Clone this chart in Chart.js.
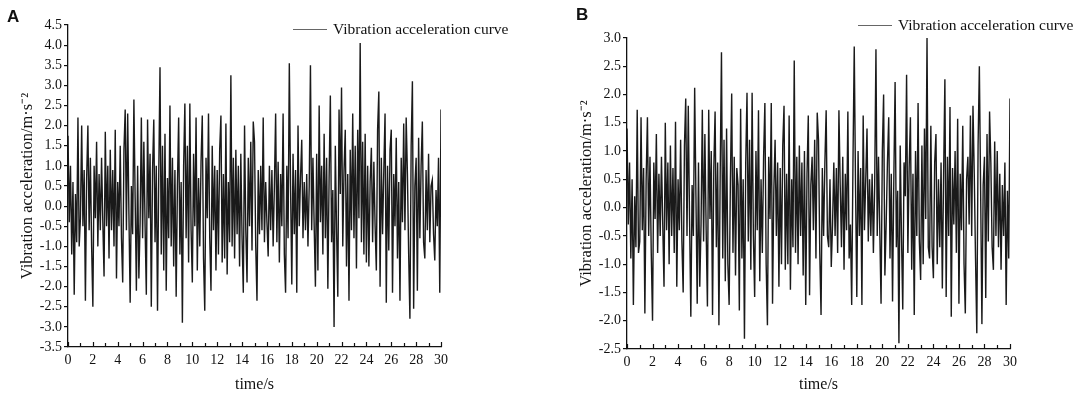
<!DOCTYPE html>
<html>
<head>
    <title>Vibration acceleration curves</title>
    <script src="https://cdn.jsdelivr.net/npm/chart.js"></script>
    <style>
        body { margin: 0; background: #fff; }
        #wrap { position: relative; width: 1084px; height: 394px; }
        canvas { position: absolute; top: 0; }
        .tag { position: absolute; font: bold 17px "Liberation Sans", Arial, sans-serif; color: #111; }
    </style>
</head>
<body>
<div id="wrap">
    <canvas id="chartA" width="542" height="394" style="left:0"></canvas>
    <canvas id="chartB" width="542" height="394" style="left:542px"></canvas>
    <div class="tag" style="left:7px;top:7px">A</div>
    <div class="tag" style="left:576px;top:5px">B</div>
</div>

<script>
    // sampling: one value every 0.1 s, 0..30 s
    var timeStep = 0.1;
    var xTicks = [0, 2, 4, 6, 8, 10, 12, 14, 16, 18, 20, 22, 24, 26, 28, 30];
    var legendLabel = "Vibration acceleration curve";

    // panel A (m/s^2), 10 values per second
    var accelA = [
        1.75, -0.4, 1.0, -1.2, 0.6, -2.2, 0.3, -0.9, 2.2, -1.0,
        -0.3, 2.0, -0.5, 0.9, -2.35, 0.7, 2.0, -0.6, 1.2, -1.0,
        -2.5, 1.0, -0.3, 1.6, -1.0, 0.8, -0.6, 1.2, -0.4, -1.75,
        1.85, -0.5, 1.0, -1.3, 1.4, -0.6, 0.9, -1.0, 1.9, -1.8,
        0.6, -0.5, 1.5, -0.8, -1.9, 1.4, 2.4, -0.6, 2.3, -0.2,
        -2.4, 0.5, -0.7, 2.65, 0.2, -2.1, 1.0, -1.8, -0.4, 2.2,
        -0.8, 1.6, -0.5, -2.2, 2.15, -0.3, 1.3, -2.5, 0.9, 2.15,
        -0.9, 1.0, -2.6, 0.8, 3.45, -1.2, 1.5, -1.6, 1.8, -2.1,
        0.7, -0.8, 2.5, -1.0, 1.2, -1.5, 0.9, -2.25, 0.5, 2.2,
        -1.2, 0.6, -2.9, 1.0, 2.55, -0.8, 1.5, -1.4, 2.55, -0.6,
        -1.9, 1.3, -0.5, 2.2, -1.6, 0.7, -1.0, 1.1, 2.25, -1.3,
        -2.6, 1.2, -0.3, 2.3, -0.8, -2.1, 1.5, -0.6, 1.0, -1.6,
        0.9, -1.2, 1.4, 2.25, -1.4, 0.8, -1.3, 2.05, -1.7, 0.6,
        -0.9, 3.25, -1.0, 1.2, -1.3, 1.4, -0.7, 1.0, -1.5, 1.3,
        -0.8, -2.15, 2.0, -0.6, -1.9, 1.2, -0.5, 1.6, -1.1, 2.1,
        1.6, -1.0, -2.35, 0.9, -0.7, 1.0, -0.6, 2.2, -0.9, 0.6,
        -0.4, -1.25, 1.0, -0.6, 0.9, -1.0, 0.5, 2.3, -0.9, 1.1,
        -1.4, 0.8, -0.5, 2.3, -1.2, -2.15, 1.0, -0.8, 3.55, 0.5,
        -1.95, 1.3, -0.7, 0.9, -2.15, 2.0, -0.5, 0.7, 1.65, -0.8,
        0.6, -0.6, 0.8, -1.0, 0.5, 3.5, -0.6, 1.2, -0.5, -2.0,
        1.3, -1.6, 2.5, -0.4, 1.0, -1.2, 1.8, -0.8, 1.2, -2.05,
        0.7, 2.75, -0.9, 0.4, -3.0, 1.5, -0.6, -2.25, 2.4, 0.3,
        2.95, -1.0, 0.9, 1.9, -1.5, 0.8, -2.35, 1.4, -0.6, 2.3,
        -0.8, 1.5, -1.55, 1.9, -0.3, 4.05, -0.9, 1.6, -1.2, 1.8,
        -1.4, 1.0, -1.5, 0.6, 1.45, -0.9, 1.1, -0.5, -1.6, 1.9,
        2.85, -2.0, 1.2, -0.7, 0.9, 2.3, -2.4, 1.0, -1.1, 1.4,
        1.9, -2.15, 0.8, -0.5, 1.7, -1.3, 0.6, -2.35, 1.2, -0.4,
        2.05, -0.6, 2.2, 0.8, -1.2, -2.8, 1.5, 3.1, -2.55, 0.5,
        1.2, -2.1, 1.7, -0.8, 1.0, 2.1, -0.9, -1.3, 0.9, -0.6,
        1.3, -0.9, 0.5, 0.65, -0.7, -1.35, 0.4, -0.5, 1.2, -2.15,
        2.4
    ];

    // panel B (m/s^2)
    var accelB = [
        1.4, -0.3, 0.8, -0.9, 0.5, -1.72, 0.2, -0.7, 1.73, -0.8,
        -0.6, 1.6, -0.4, 0.7, -1.87, 0.5, 1.6, -0.5, 0.9, -0.8,
        -2.0, 0.8, -0.2, 1.3, -0.8, 0.6, -0.5, 0.9, -0.3, -1.4,
        1.5, -0.4, 0.8, -1.0, 1.1, -0.5, 0.7, -0.8, 1.52, -1.4,
        0.5, -0.4, 1.2, -0.6, -1.5, 1.1, 1.93, -0.5, 1.8, -0.2,
        -1.93, 0.4, -0.5, 2.12, 0.2, -1.7, 0.8, -1.4, -0.3, 1.73,
        -0.6, 1.3, -0.4, -1.75, 1.73, -0.2, 1.0, -1.9, 0.7, 1.7,
        -0.7, 0.8, -2.08, 0.6, 2.75, -0.9, 1.2, -1.3, 1.4, -1.0,
        -1.72, 0.5, 2.02, -0.8, 0.9, -1.2, 0.7, 0.4, -1.82, 1.75,
        -0.9, 0.5, -2.32, 0.8, 2.03, -0.6, 1.2, -1.1, 2.03, -0.5,
        -1.58, 1.0, -0.4, 1.72, -1.3, 0.5, -0.8, 0.9, 1.85, -1.0,
        -2.08, 0.9, -0.2, 1.85, -1.7, 0.3, 1.2, -0.5, 0.8, -1.4,
        0.7, -1.0, 1.1, 1.8, -1.1, 0.6, -1.0, 1.63, -1.45, 0.5,
        -0.7, 2.6, -0.8, 0.9, -1.0, 1.1, -0.5, 0.8, -1.2, 1.0,
        -1.72, 0.6, 1.63, -1.55, 0.4, 0.9, -0.4, 1.2, -0.9, 1.68,
        1.2, -0.8, -1.9, 0.7, -0.5, 0.8, 1.72, -0.5, -0.7, 0.5,
        -1.05, -0.3, 0.8, -0.5, 0.7, -0.8, 1.72, 0.4, -0.7, 0.9,
        -1.1, 0.6, -0.4, 1.7, -0.9, -0.3, -1.72, 0.8, 2.85, 0.4,
        -1.58, 1.0, -0.5, 0.7, -1.72, 1.63, -0.4, 0.5, 1.4, -0.6,
        0.5, -0.5, 0.6, -0.8, 0.4, 2.8, -0.5, 0.9, -0.4, -1.7,
        1.0, 2.0, -1.2, -0.3, 0.8, 1.6, -0.9, 0.6, -1.66, 0.5,
        2.22, -0.7, 0.3, -2.4, 1.1, -0.5, -1.8, 0.8, 0.2, 2.35,
        -0.8, 0.7, 1.6, -1.1, 0.6, -1.9, 1.0, -0.5, 1.85, -0.6,
        -1.28, 1.1, -1.0, 1.4, -0.2, 3.0, -0.7, -0.9, 1.45, -0.7,
        -1.25, 0.8, 1.3, -1.0, 0.5, -0.7, 0.8, -1.43, 0.6, 2.27,
        -1.58, 0.9, -0.5, 1.78, -1.93, 0.7, -0.3, 1.0, -0.8, 1.57,
        -1.7, 0.6, -0.4, 1.45, -1.0, -1.87, 0.5, 0.9, -0.3, 1.63,
        -0.5, 1.8, 0.6, -0.9, -2.22, 1.1, 2.5, 0.3, -2.06, 0.4,
        0.9, -1.6, 1.3, -0.6, 1.7, 0.8, -0.7, -1.1, 1.17, -0.5,
        1.0, -0.7, 0.6, -1.1, 0.4, -0.5, 0.8, -1.72, 0.3, -0.9,
        1.93
    ];

    var serif = '"Liberation Serif", "Times New Roman", serif';

    // inward minor/major ticks on the time axis + legend inside the plot
    var frame = {
        id: "frame",
        afterDraw: function(chart, args, opts) {
            var ctx = chart.ctx;
            var xs = chart.scales.x;
            var bottom = chart.chartArea.bottom;
            ctx.save();
            ctx.strokeStyle = "#111";
            ctx.lineWidth = 1.2;
            for (var t = 0; t <= 30; t++) {
                var px = Math.round(xs.getPixelForValue(t)) + 0.5;
                ctx.beginPath();
                ctx.moveTo(px, bottom);
                ctx.lineTo(px, bottom - (t % 2 === 0 ? 5 : 4));
                ctx.stroke();
            }
            // legend
            ctx.strokeStyle = "#666";
            ctx.lineWidth = 1;
            ctx.beginPath();
            ctx.moveTo(opts.x, opts.y + 0.5);
            ctx.lineTo(opts.x + 34, opts.y + 0.5);
            ctx.stroke();
            ctx.fillStyle = "#111";
            ctx.font = "15.5px " + serif;
            ctx.textBaseline = "middle";
            ctx.fillText(legendLabel, opts.x + 40, opts.y + 1);
            ctx.restore();
        }
    };

    function makeChart(id, values, yMin, yMax, box) {
        var points = values.map(function(v, i) {
            return { x: +(i * timeStep).toFixed(1), y: v };
        });
        return new Chart(document.getElementById(id), {
            type: "line",
            data: {
                datasets: [{
                    label: legendLabel,
                    data: points,
                    borderColor: "#1a1a1a",
                    borderWidth: 1.4,
                    pointRadius: 0,
                    tension: 0
                }]
            },
            plugins: [frame],
            options: {
                responsive: false,
                animation: false,
                layout: { padding: { left: 0, right: box.right, top: box.top, bottom: 0 } },
                plugins: {
                    legend: { display: false },
                    tooltip: { enabled: false },
                    frame: { x: box.legX, y: box.legY }
                },
                scales: {
                    x: {
                        type: "linear",
                        min: 0,
                        max: 30,
                        afterBuildTicks: function(scale) {
                            scale.ticks = xTicks.map(function(v) { return { value: v }; });
                        },
                        afterFit: function(scale) { scale.height = box.xH; },
                        grid: { display: false, drawTicks: false },
                        border: { display: true, color: "#111", width: 1.3 },
                        ticks: {
                            autoSkip: false,
                            maxRotation: 0,
                            padding: 5,
                            color: "#111",
                            font: { family: serif, size: 14 }
                        },
                        title: {
                            display: true,
                            text: "time/s",
                            color: "#111",
                            font: { family: serif, size: 16 },
                            padding: { top: 0, bottom: 0 }
                        }
                    },
                    y: {
                        min: yMin,
                        max: yMax,
                        afterFit: function(scale) { scale.width = box.yW; },
                        grid: { drawOnChartArea: false, drawTicks: true, tickLength: 4, color: "#111", lineWidth: 1.2 },
                        border: { display: true, color: "#111", width: 1.3 },
                        ticks: {
                            stepSize: 0.5,
                            padding: 2,
                            color: "#111",
                            font: { family: serif, size: 14 },
                            callback: function(v) { return v.toFixed(1); }
                        },
                        title: {
                            display: true,
                            text: "Vibration acceleration/m\u00b7s\u207b\u00b2",
                            color: "#111",
                            font: { family: serif, size: 16.5 },
                            padding: { top: box.titleOff, bottom: 0 }
                        }
                    }
                }
            }
        });
    }

    makeChart("chartA", accelA, -3.5, 4.5,
        { right: 101, top: 25, xH: 47, yW: 68, titleOff: 18, legX: 293, legY: 29 });
    makeChart("chartB", accelB, -2.5, 3.0,
        { right: 74, top: 38, xH: 45, yW: 85, titleOff: 35, legX: 316, legY: 25 });
</script>
</body>
</html>
